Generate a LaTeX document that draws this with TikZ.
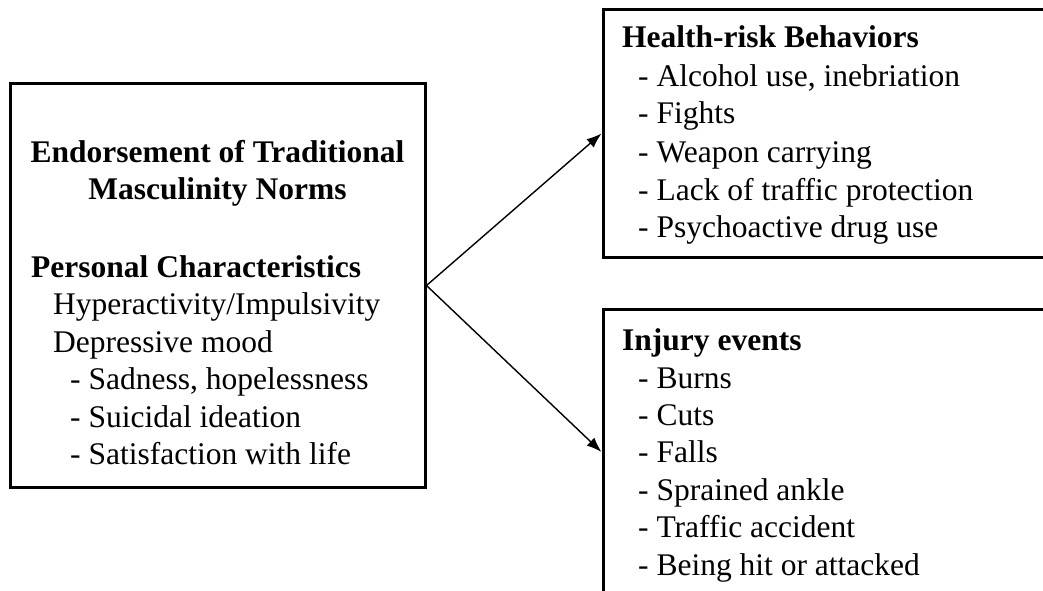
\documentclass[tikz,border=0pt]{standalone}
\usepackage{fontspec}
\setmainfont{Liberation Serif}
\usetikzlibrary{arrows.meta}

\tikzset{
  box/.style={draw, line width=3pt, rectangle, inner sep=0pt},
  txt/.style={anchor=base west, inner sep=0pt, font=\fontsize{31.5}{37.5}\selectfont},
  head/.style={txt, font=\fontsize{31.5}{37.5}\selectfont\bfseries},
  link/.style={-{Latex[length=15pt,width=11pt]}, line width=1.4pt}
}

\begin{document}
\begin{tikzpicture}[x=1pt,y=-1pt]
\useasboundingbox (0,0) rectangle (1043,591);
\clip (0,0) rectangle (1043,591);
\fill[white] (0,0) rectangle (1043,591);
\begin{scope}
    % the three boxes
    \node[box, minimum width=415, minimum height=403] (norms) at (217.5,285.5) {};
    \node[box, minimum width=447, minimum height=247] (risk) at (826.5,133.5) {};
    \node[box, minimum width=447, minimum height=286] (injury) at (826.5,452) {};

    % left box
    \node[head, anchor=base] (n1) at (217.5,162) {Endorsement of Traditional};
    \node[head, anchor=base] (n2) at (217.5,199.5) {Masculinity Norms};
    \node[head] (n3) at (31,277) {Personal Characteristics};
    \node[txt] (n4) at (53,314.5) {Hyperactivity/Impulsivity};
    \node[txt] (n5) at (53,352) {Depressive mood};
    \node[txt] (n6) at (70,389.5) {- Sadness, hopelessness};
    \node[txt] (n7) at (70,427) {- Suicidal ideation};
    \node[txt] (n8) at (70,464.5) {- Satisfaction with life};

    % top right box
    \node[head] (r1) at (622,48) {Health-risk Behaviors};
    \node[txt] (r2) at (638,87) {- Alcohol use, inebriation};
    \node[txt] (r3) at (638,124) {- Fights};
    \node[txt] (r4) at (638,162) {- Weapon carrying};
    \node[txt] (r5) at (638,200) {- Lack of traffic protection};
    \node[txt] (r6) at (638,237) {- Psychoactive drug use};

    % bottom right box
    \node[head] (i1) at (622,350) {Injury events};
    \node[txt] (i2) at (638,388) {- Burns};
    \node[txt] (i3) at (638,425) {- Cuts};
    \node[txt] (i4) at (638,462) {- Falls};
    \node[txt] (i5) at (638,500) {- Sprained ankle};
    \node[txt] (i6) at (638,537) {- Traffic accident};
    \node[txt] (i7) at (638,575) {- Being hit or attacked};

    \path [link] (norms.east) edge (risk.west);
    \path [link] (norms.east) edge (injury.west);
\end{scope}
\end{tikzpicture}
\end{document}
